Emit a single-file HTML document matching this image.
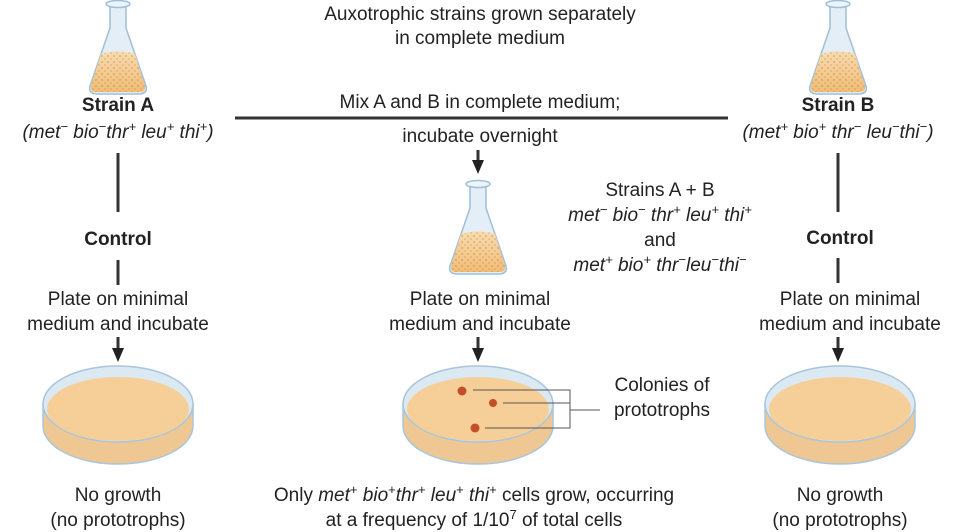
<!DOCTYPE html>
<html><head><meta charset="utf-8"><style>
body{margin:0;background:#fff}
svg{display:block}
text{font-family:"Liberation Sans",sans-serif;fill:#222;font-size:19px}
.b{font-weight:bold}
.i{font-style:italic}
</style></head><body>
<svg width="960" height="532" viewBox="0 0 960 532">
<defs>
<linearGradient id="ag" x1="0" x2="0" y1="0" y2="1"><stop offset="0" stop-color="#f9dcae"/><stop offset="1" stop-color="#f1bd76"/></linearGradient>
<pattern id="dots" width="6" height="6" patternUnits="userSpaceOnUse"><circle cx="2" cy="2" r="0.6" fill="#a86a30"/><circle cx="5" cy="5" r="0.5" fill="#a86a30"/></pattern>
<g id="flask">
 <path d="M-8,-44 L-8,-20 L-28,38 Q-30,45 -22,46 L22,46 Q30,45 28,38 L8,-20 L8,-44 Z" fill="#e3eef6" stroke="#9fbfd6" stroke-width="1.5"/>
 <ellipse cx="0" cy="-44" rx="12" ry="3.5" fill="#eef5fa" stroke="#9fbfd6" stroke-width="1.5"/>
 <path d="M-17,6 Q0,1 17,6 L27,38 Q28,44 22,44 L-22,44 Q-28,44 -27,38 Z" fill="url(#ag)"/>
 <path d="M-17,6 Q0,1 17,6 L27,38 Q28,44 22,44 L-22,44 Q-28,44 -27,38 Z" fill="url(#dots)"/>
</g>
<g id="dish">
 <path d="M-75,0 L-75,22 A75,38 0 0 0 75,22 L75,0 Z" fill="#efc792" stroke="#a9c5dc" stroke-width="1.5"/>
 <ellipse cx="0" cy="0" rx="75" ry="38" fill="#dbe9f3" stroke="#a9c5dc" stroke-width="1.5"/>
 <ellipse cx="0" cy="5" rx="71" ry="32" fill="#f6cf98"/>
</g>
</defs>

<use href="#flask" x="118" y="48"/>
<use href="#flask" x="838" y="48"/>
<use href="#flask" x="478" y="228"/>

<text x="480" y="20" text-anchor="middle">Auxotrophic strains grown separately</text>
<text x="480" y="44" text-anchor="middle">in complete medium</text>

<text x="118" y="111" text-anchor="middle" class="b">Strain A</text>
<text x="118" y="138" text-anchor="middle" class="i">(met<tspan dy="-7" font-size="13">−</tspan><tspan dy="7"> bio</tspan><tspan dy="-7" font-size="13">−</tspan><tspan dy="7">thr</tspan><tspan dy="-7" font-size="13">+</tspan><tspan dy="7"> leu</tspan><tspan dy="-7" font-size="13">+</tspan><tspan dy="7"> thi</tspan><tspan dy="-7" font-size="13">+</tspan><tspan dy="7">)</tspan></text>
<text x="838" y="111" text-anchor="middle" class="b">Strain B</text>
<text x="838" y="138" text-anchor="middle" class="i">(met<tspan dy="-7" font-size="13">+</tspan><tspan dy="7"> bio</tspan><tspan dy="-7" font-size="13">+</tspan><tspan dy="7"> thr</tspan><tspan dy="-7" font-size="13">−</tspan><tspan dy="7"> leu</tspan><tspan dy="-7" font-size="13">−</tspan><tspan dy="7">thi</tspan><tspan dy="-7" font-size="13">−</tspan><tspan dy="7">)</tspan></text>

<line x1="235" y1="118" x2="728" y2="118" stroke="#333" stroke-width="3"/>
<text x="480" y="108" text-anchor="middle">Mix A and B in complete medium;</text>
<text x="480" y="142" text-anchor="middle">incubate overnight</text>
<g fill="#222">
<line x1="478" y1="150" x2="478" y2="162" stroke="#333" stroke-width="3"/>
<polygon points="472,160 484,160 478,174"/>
<line x1="118" y1="337" x2="118" y2="350" stroke="#333" stroke-width="3"/>
<polygon points="112,348 124,348 118,362"/>
<line x1="478" y1="337" x2="478" y2="350" stroke="#333" stroke-width="3"/>
<polygon points="472,348 484,348 478,362"/>
<line x1="838" y1="337" x2="838" y2="350" stroke="#333" stroke-width="3"/>
<polygon points="832,348 844,348 838,362"/>
</g>

<line x1="118" y1="153" x2="118" y2="212" stroke="#333" stroke-width="3"/>
<text x="118" y="245" text-anchor="middle" class="b">Control</text>
<line x1="118" y1="260" x2="118" y2="285" stroke="#333" stroke-width="3"/>
<line x1="838" y1="153" x2="838" y2="212" stroke="#333" stroke-width="3"/>
<text x="840" y="244" text-anchor="middle" class="b">Control</text>
<line x1="838" y1="258" x2="838" y2="283" stroke="#333" stroke-width="3"/>

<text x="660" y="196" text-anchor="middle">Strains A + B</text>
<text x="660" y="221" text-anchor="middle" class="i">met<tspan dy="-7" font-size="13">−</tspan><tspan dy="7"> bio</tspan><tspan dy="-7" font-size="13">−</tspan><tspan dy="7"> thr</tspan><tspan dy="-7" font-size="13">+</tspan><tspan dy="7"> leu</tspan><tspan dy="-7" font-size="13">+</tspan><tspan dy="7"> thi</tspan><tspan dy="-7" font-size="13">+</tspan></text>
<text x="660" y="246" text-anchor="middle">and</text>
<text x="660" y="271" text-anchor="middle" class="i">met<tspan dy="-7" font-size="13">+</tspan><tspan dy="7"> bio</tspan><tspan dy="-7" font-size="13">+</tspan><tspan dy="7"> thr</tspan><tspan dy="-7" font-size="13">−</tspan><tspan dy="7">leu</tspan><tspan dy="-7" font-size="13">−</tspan><tspan dy="7">thi</tspan><tspan dy="-7" font-size="13">−</tspan></text>

<text x="118" y="305" text-anchor="middle">Plate on minimal</text>
<text x="118" y="330" text-anchor="middle">medium and incubate</text>
<text x="480" y="305" text-anchor="middle">Plate on minimal</text>
<text x="480" y="330" text-anchor="middle">medium and incubate</text>
<text x="850" y="305" text-anchor="middle">Plate on minimal</text>
<text x="850" y="330" text-anchor="middle">medium and incubate</text>

<use href="#dish" x="118" y="404"/>
<use href="#dish" x="478" y="404"/>
<use href="#dish" x="840" y="404"/>

<circle cx="462" cy="391" r="4.5" fill="#c1502a"/>
<circle cx="493" cy="403" r="4" fill="#c1502a"/>
<circle cx="475" cy="428" r="4.5" fill="#c1502a"/>
<g stroke="#555" stroke-width="1" fill="none">
<path d="M473,390 H570 V428 H485 M503,403 H570 M570,410 H600"/>
</g>
<text x="662" y="391" text-anchor="middle">Colonies of</text>
<text x="662" y="416" text-anchor="middle">prototrophs</text>

<text x="118" y="501" text-anchor="middle">No growth</text>
<text x="118" y="526" text-anchor="middle">(no prototrophs)</text>
<text x="840" y="501" text-anchor="middle">No growth</text>
<text x="840" y="526" text-anchor="middle">(no prototrophs)</text>
<text x="474" y="501" text-anchor="middle">Only <tspan class="i">met</tspan><tspan dy="-7" font-size="13">+</tspan><tspan dy="7" class="i"> bio</tspan><tspan dy="-7" font-size="13">+</tspan><tspan dy="7" class="i">thr</tspan><tspan dy="-7" font-size="13">+</tspan><tspan dy="7" class="i"> leu</tspan><tspan dy="-7" font-size="13">+</tspan><tspan dy="7" class="i"> thi</tspan><tspan dy="-7" font-size="13">+</tspan><tspan dy="7"> cells grow, occurring</tspan></text>
<text x="474" y="526" text-anchor="middle">at a frequency of 1/10<tspan dy="-7" font-size="13">7</tspan><tspan dy="7"> of total cells</tspan></text>
</svg>
</body></html>
